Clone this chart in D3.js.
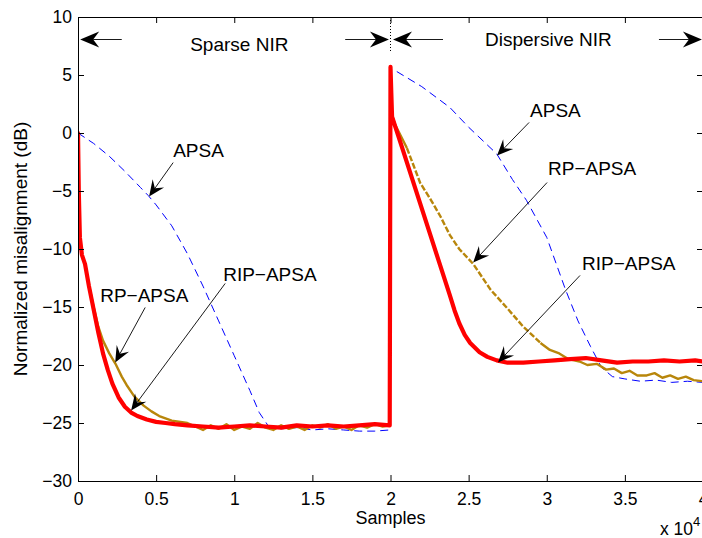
<!DOCTYPE html>
<html>
<head>
<meta charset="utf-8">
<script src="https://cdn.jsdelivr.net/npm/d3@7"></script>
<style>
    body { margin: 0; background: #fff; }
    #chart-area { width: 702px; height: 538px; }
    text { font-family: "Liberation Sans", Arial, Helvetica, sans-serif; }
</style>
</head>
<body>
<div id="chart-area"></div>
<script>

// ---- data (samples, misalignment in dB) ----

// RIP-APSA (red)
let ripSamples = [0, 50, 120, 250, 450, 700, 1000, 1300, 1600, 1900, 2200, 2600, 3000, 3400, 3800, 4400, 5000, 5600, 6200,
    7000, 8000, 9000, 10000, 11000, 12000, 13000, 14000, 15000, 16000, 17000, 18000, 19000, 19950,
    20000, 20050, 20100, 20800, 21400, 22000, 22600, 23200, 23800, 24100, 24400, 24750, 25100, 25700, 26200, 26800, 27500,
    28500, 29500, 30500, 31500, 32500, 33500, 34500, 35500, 36500, 37500, 38500, 39500, 40000];
let ripDb = [0, -5, -9, -10.5, -11.3, -13.2, -15.2, -17.2, -19.0, -20.4, -21.6, -22.8, -23.6, -24.1, -24.4, -24.7, -24.9, -25.0, -25.1,
    -25.2, -25.3, -25.4, -25.3, -25.2, -25.3, -25.4, -25.2, -25.3, -25.2, -25.3, -25.2, -25.1, -25.2,
    5.7, 3.5, 1.4, -1.5, -4.0, -6.5, -9.0, -11.5, -14.0, -15.3, -16.4, -17.4, -18.1, -18.9, -19.3, -19.6, -19.8,
    -19.8, -19.7, -19.6, -19.5, -19.4, -19.6, -19.8, -19.7, -19.7, -19.6, -19.7, -19.6, -19.7];

// RP-APSA (gold)
let rpSamples = [0, 50, 120, 250, 450, 700, 1000, 1300, 1600, 2000, 2400, 2800, 3100, 3600, 4200, 4700, 5200, 6000, 7000,
    7500, 8000, 8500, 9000, 9500, 10000, 10500, 11000, 11500, 12000, 12500, 13000, 13500, 14000, 14500, 15000,
    15500, 16000, 16500, 17000, 17500, 18000, 18500, 19000, 19500, 19950,
    20000, 20100, 20300, 21050, 21900, 22600, 23200, 23800, 24400, 25300, 25900, 26400, 27400, 28500, 29600,
    30200, 30800, 31400, 32100, 32600, 33200, 33800, 34300, 34800, 35300, 35800, 36400, 36900, 37400, 37900,
    38400, 38900, 39400, 40000];
let rpDb = [0, -5, -9, -10.5, -11.3, -13.1, -15.0, -16.7, -17.9, -19.0, -19.9, -21.0, -21.7, -22.7, -23.5, -24.0, -24.4, -24.8, -25.0,
    -25.3, -25.6, -25.2, -25.5, -25.1, -25.6, -25.3, -25.5, -25.0, -25.4, -25.6, -25.2, -25.5, -25.3, -25.6, -25.2,
    -25.4, -25.1, -25.5, -25.3, -25.6, -25.2, -25.4, -25.1, -25.3, -25.2,
    5.6, 1.5, 0.7, -1.3, -4.3, -5.8, -7.2, -8.8, -10.0, -11.3, -12.5, -13.5, -15.0, -16.7, -18.1,
    -18.7, -19.0, -19.5, -19.7, -20.0, -19.9, -20.4, -20.3, -20.7, -20.5, -20.9, -20.9, -20.7, -21.1, -20.9,
    -21.2, -21.0, -21.3, -21.4];

// APSA (blue dashed)
let apsaSamples = [0, 1000, 2000, 3000, 4000, 4500, 5000, 6000, 7000, 8000, 9000, 10000, 11000, 11600, 12200,
    13000, 14000, 15000, 16000, 17000, 18000, 19000, 19950,
    20000, 20400, 22000, 23800, 25000, 26800, 27800, 28700, 30000, 31200, 32000, 32800, 33500, 34200,
    35000, 36000, 37000, 38000, 39000, 40000];
let apsaDb = [0, -0.9, -2.0, -3.3, -4.7, -5.4, -6.2, -8.0, -10.4, -13.2, -16.2, -19.2, -22.2, -24.1, -25.3,
    -25.5, -25.4, -25.6, -25.5, -25.6, -25.7, -25.7, -25.6,
    5.5, 5.3, 4.0, 2.2, 0.5, -1.8, -4.0, -5.8, -9.0, -13.5, -16.2, -18.4, -20.2, -21.0,
    -21.2, -21.4, -21.3, -21.5, -21.4, -21.5];

// axis ticks
let xTicks = [0, 5000, 10000, 15000, 20000, 25000, 30000, 35000, 40000];
let yTicks = [-30, -25, -20, -15, -10, -5, 0, 5, 10];

// annotation labels
let annoLabels = ["APSA", "RP\u2212APSA", "RIP\u2212APSA", "APSA", "RP\u2212APSA", "RIP\u2212APSA"];
let regionLabels = ["Sparse NIR", "Dispersive NIR"];


class MisalignmentChart {

    constructor(parentElement) {
        this.parentElement = parentElement;
    }

    initVis() {
        let vis = this;

        vis.margin = {top: 17, right: -1, bottom: 57, left: 78};
        vis.width = 702 - vis.margin.left - vis.margin.right;
        vis.height = 538 - vis.margin.top - vis.margin.bottom;

        vis.svg = d3.select("#" + vis.parentElement).append("svg")
            .attr("width", 702)
            .attr("height", 538)
            .append("g")
            .attr("transform", "translate(" + vis.margin.left + "," + vis.margin.top + ")");

        vis.x = d3.scaleLinear().domain([0, 40000]).range([0, vis.width]);
        vis.y = d3.scaleLinear().domain([-30, 10]).range([vis.height, 0]);

        vis.svg.append("clipPath").attr("id", "plot-clip")
            .append("rect").attr("width", vis.width).attr("height", vis.height);

        vis.wrangleData();
    }

    wrangleData() {
        let vis = this;

        vis.rip = ripSamples.map((s, i) => ({s: s, v: ripDb[i]}));
        vis.rp = rpSamples.map((s, i) => ({s: s, v: rpDb[i]}));
        vis.apsa = apsaSamples.map((s, i) => ({s: s, v: apsaDb[i]}));

        // the smooth part of the gold curve after the switch shows up dashed
        vis.rpDashed = vis.rp.filter(d => d.s >= 21050 && d.s <= 29600);

        vis.updateVis();
    }

    updateVis() {
        let vis = this;

        let line = d3.line()
            .x(d => vis.x(d.s))
            .y(d => vis.y(d.v));

        let lines = vis.svg.append("g").attr("clip-path", "url(#plot-clip)");

        // dotted marker of the switch
        lines.append("line")
            .attr("x1", vis.x(20000)).attr("x2", vis.x(20000))
            .attr("y1", vis.y(10)).attr("y2", vis.y(7.0))
            .attr("stroke", "#000").attr("stroke-width", 1)
            .attr("stroke-dasharray", "1,2");

        lines.append("path")
            .datum(vis.apsa)
            .attr("d", line)
            .attr("fill", "none")
            .attr("stroke", "#0000ff")
            .attr("stroke-width", 1)
            .attr("stroke-dasharray", "8,5");

        lines.append("path")
            .datum(vis.rp)
            .attr("d", line.defined(d => !(d.s > 21050 && d.s < 29600)))
            .attr("fill", "none")
            .attr("stroke", "#b8860b")
            .attr("stroke-width", 2.4)
            .attr("stroke-linejoin", "round");
        line.defined(() => true);

        lines.append("path")
            .datum(vis.rpDashed)
            .attr("d", line)
            .attr("fill", "none")
            .attr("stroke", "#b8860b")
            .attr("stroke-width", 2.4)
            .attr("stroke-dasharray", "6,2");

        lines.append("path")
            .datum(vis.rip)
            .attr("d", line)
            .attr("fill", "none")
            .attr("stroke", "#ff0000")
            .attr("stroke-width", 4.2)
            .attr("stroke-linejoin", "round")
            .attr("stroke-linecap", "round");

        // axes, ticks point inward on all four sides
        let xFmt = d3.format("~g");
        let xAxis = d3.axisBottom(vis.x).tickValues(xTicks).tickSizeInner(-6).tickSizeOuter(0)
            .tickPadding(11.5).tickFormat(d => xFmt(d / 10000));
        let xAxisTop = d3.axisTop(vis.x).tickValues(xTicks).tickSizeInner(-6).tickSizeOuter(0).tickFormat("");
        let yAxis = d3.axisLeft(vis.y).tickValues(yTicks).tickSizeInner(-6).tickSizeOuter(0).tickPadding(6);
        let yAxisRight = d3.axisRight(vis.y).tickValues(yTicks).tickSizeInner(-6).tickSizeOuter(0).tickFormat("");

        vis.svg.append("g").attr("class", "x-axis axis")
            .attr("transform", "translate(0," + vis.height + ")").call(xAxis);
        vis.svg.append("g").attr("class", "x-axis-top axis").call(xAxisTop);
        vis.svg.append("g").attr("class", "y-axis axis").call(yAxis);
        vis.svg.append("g").attr("class", "y-axis-right axis")
            .attr("transform", "translate(" + vis.width + ",0)").call(yAxisRight);

        vis.svg.selectAll(".axis")
            .attr("font-size", 17.5)
            .attr("font-family", "'Liberation Sans', Arial, sans-serif");
        vis.svg.selectAll(".axis text").attr("fill", "#000");

        // axis labels
        vis.svg.append("text")
            .attr("x", vis.x(20000)).attr("y", vis.height + 43)
            .attr("text-anchor", "middle").attr("font-size", 18)
            .text("Samples");

        let mult = vis.svg.append("text")
            .attr("x", 582).attr("y", vis.height + 54)
            .attr("font-size", 17.5);
        mult.append("tspan").text("x 10");
        mult.append("tspan").attr("dy", -9).attr("font-size", 13).text("4");

        vis.svg.append("text")
            .attr("transform", "translate(-51," + (vis.height / 2) + ") rotate(-90)")
            .attr("text-anchor", "middle").attr("font-size", 19)
            .text("Normalized misalignment (dB)");

        // arrow helper: thin shaft with a notched head at the tip
        function arrow(g, from, tip, len, hw, notch) {
            let dx = tip[0] - from[0], dy = tip[1] - from[1];
            let l = Math.sqrt(dx * dx + dy * dy);
            let ux = dx / l, uy = dy / l, nx = -uy, ny = ux;
            g.append("line")
                .attr("x1", from[0]).attr("y1", from[1])
                .attr("x2", tip[0] - ux * notch).attr("y2", tip[1] - uy * notch)
                .attr("stroke", "#000").attr("stroke-width", 0.9);
            let pts = [
                [tip[0], tip[1]],
                [tip[0] - ux * len + nx * hw, tip[1] - uy * len + ny * hw],
                [tip[0] - ux * notch, tip[1] - uy * notch],
                [tip[0] - ux * len - nx * hw, tip[1] - uy * len - ny * hw]
            ];
            g.append("polygon").attr("points", pts.map(p => p.join(",")).join(" ")).attr("fill", "#000");
        }

        let p = (s, v) => [vis.x(s), vis.y(v)];

        // curve annotations (anchored in data coordinates)
        let annos = [
            {at: [6090, -2.11], from: [6090, -2.55], tip: [4550, -5.47]},
            {at: [1420, -14.61], from: [4300, -15.04], tip: [2380, -19.78]},
            {at: [9290, -12.72], from: [9420, -12.97], tip: [3400, -23.92]},
            {at: [28930, 1.34], from: [28870, 0.91], tip: [26820, -1.94]},
            {at: [30080, -3.66], from: [30020, -4.27], tip: [25290, -11.16]},
            {at: [32260, -11.85], from: [32130, -12.28], tip: [26880, -19.78]}
        ];
        let annoG = vis.svg.append("g").attr("class", "annotations");
        annos.forEach(function(a, i) {
            annoG.append("text")
                .attr("x", vis.x(a.at[0])).attr("y", vis.y(a.at[1]))
                .attr("font-size", 19)
                .text(annoLabels[i]);
            arrow(annoG, p(a.from[0], a.from[1]), p(a.tip[0], a.tip[1]), 16, 7, 10);
        });

        // region arrows along the top
        let regionY = 8.06;
        arrow(annoG, p(2800, regionY), p(140, regionY), 19, 8, 13);
        arrow(annoG, p(17100, regionY), p(19900, regionY), 19, 8, 13);
        arrow(annoG, p(23360, regionY), p(20160, regionY), 19, 8, 13);
        arrow(annoG, p(37180, regionY), p(39930, regionY), 19, 8, 13);

        annoG.append("text")
            .attr("x", vis.x(7180)).attr("y", vis.y(7.1))
            .attr("font-size", 19)
            .text(regionLabels[0]);
        annoG.append("text")
            .attr("x", vis.x(26050)).attr("y", vis.y(7.46))
            .attr("font-size", 19)
            .text(regionLabels[1]);
    }
}

let chart = new MisalignmentChart("chart-area");
chart.initVis();

</script>
</body>
</html>
